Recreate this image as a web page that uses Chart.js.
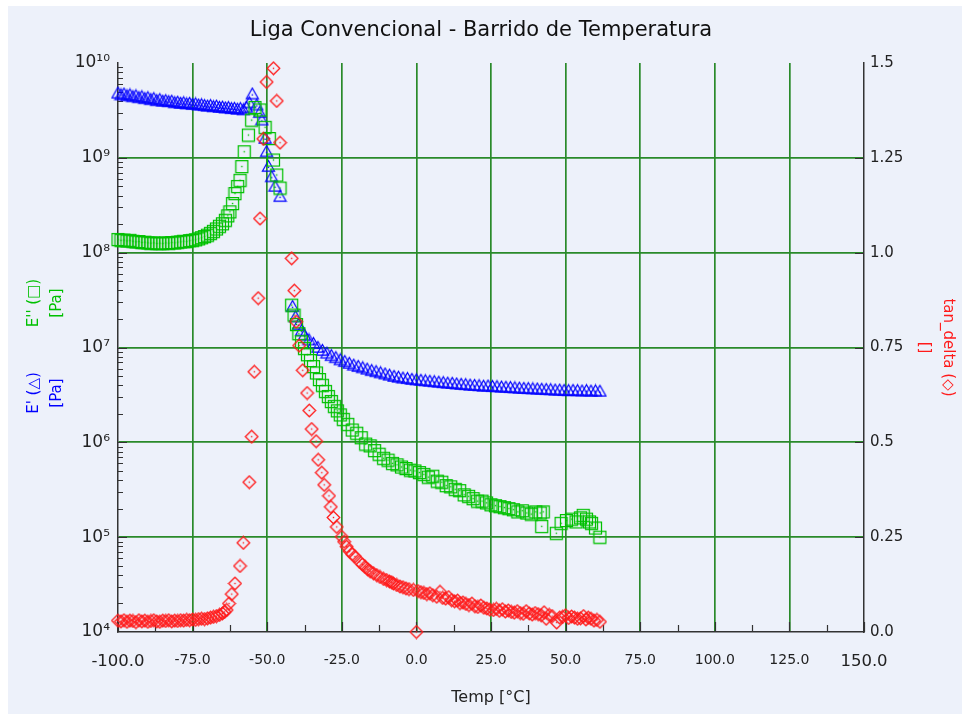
<!DOCTYPE html>
<html><head><meta charset="utf-8">
<script src="https://cdn.jsdelivr.net/npm/chart.js@4.4.1/dist/chart.umd.min.js"></script>
<style>html,body{margin:0;padding:0;background:#fff;}canvas{display:block;}</style>
</head><body>
<canvas id="c" width="962" height="714"></canvas>
<script>
// ---------------- DATA ----------------
const chartTitle = 'Liga Convencional - Barrido de Temperatura';
const xTickLabels = ['-100.0','-75.0','-50.0','-25.0','0.0','25.0','50.0','75.0','100.0','125.0','150.0'];
const leftTickLabels = ['10\u2074','10\u2075','10\u2076','10\u2077','10\u2078','10\u2079','10\u00B9\u2070'];
const rightTickLabels = ['0.0','0.25','0.5','0.75','1.0','1.25','1.5'];

// E' (storage modulus, Pa) - blue triangles
const tempsStorage = [-100,-99,-98,-97,-96,-95,-94,-93,-92,-91,-90,-89,-88,-87,-86,-85,-84,-83,-82,-81,-80,-79,-78,-77,-76,-75,-74,-73,-72,-71,-70,-69,-68,-67,-66,-65,-64,-63,-62,-61,-60,-59,-58,-57,
 -56,-55,-53.5,-52.5,-51.8,-50.7,-50.2,-49.6,-48.5,-47.4,-45.7,
 -41.5,-40.5,-39.5,-38.5,-37.5,-36,-34.5,-33,-31.5,-30,-28.5,-27,-25.5,-24,-22.5,-21,-19.5,-18,-16.5,-15,-13.5,-12,-10.5,-9,-7.5,-6,-4.5,-3,-1.5,0,
 1.5,3,4.5,6,7.5,9,10.5,12,13.5,15,16.5,18,19.5,21,22.5,24,25.5,27,28.5,30,31.5,33,34.5,36,37.5,39,40.5,42,43.5,45,46.5,48,49.5,51,52.5,54,55.5,57,58.5,60,61.5];
const storageModulus = [4.8e9,4.6e9,4.7e9,4.5e9,4.6e9,4.4e9,4.5e9,4.3e9,4.4e9,4.2e9,4.3e9,4.1e9,4.2e9,4.0e9,4.1e9,3.95e9,4.0e9,3.9e9,3.95e9,3.8e9,3.85e9,3.75e9,3.8e9,3.7e9,3.75e9,3.65e9,3.7e9,3.6e9,3.62e9,3.55e9,3.5e9,3.55e9,3.45e9,3.5e9,3.4e9,3.42e9,3.35e9,3.38e9,3.3e9,3.32e9,3.25e9,3.3e9,3.2e9,3.4e9,
 3.8e9,4.7e9,3.6e9,3.0e9,2.5e9,1.6e9,1.16e9,8.1e8,6.3e8,5.0e8,3.9e8,
 2.7e7,2.1e7,1.75e7,1.5e7,1.35e7,1.2e7,1.1e7,1.0e7,9.3e6,8.7e6,8.2e6,7.8e6,7.4e6,7.1e6,6.8e6,6.5e6,6.3e6,6.1e6,5.9e6,5.7e6,5.55e6,5.4e6,5.25e6,5.1e6,4.95e6,4.85e6,4.75e6,4.7e6,4.6e6,4.55e6,
 4.5e6,4.45e6,4.4e6,4.35e6,4.3e6,4.25e6,4.2e6,4.18e6,4.12e6,4.08e6,4.05e6,4.0e6,3.98e6,3.95e6,3.9e6,3.92e6,3.87e6,3.85e6,3.82e6,3.8e6,3.78e6,3.75e6,3.72e6,3.7e6,3.68e6,3.66e6,3.64e6,3.62e6,3.6e6,3.58e6,3.55e6,3.55e6,3.52e6,3.5e6,3.52e6,3.5e6,3.47e6,3.5e6,3.46e6,3.48e6,3.45e6];

// E'' (loss modulus, Pa) - green squares
const tempsLoss = [-100,-99,-98,-97,-96,-95,-94,-93,-92,-91,-90,-89,-88,-87,-86,-85,-84,-83,-82,-81,-80,-79,-78,-77,-76,-75,-74,-73,-72,-71,-70,-69,-68,-67,-66,-65,-64,
 -63.2,-62.5,-61.6,-60.8,-59.9,-59.1,-58.5,-57.7,-56.3,-55.2,-54.1,-52.4,-50.7,-49.3,-47.9,-46.8,-45.7,
 -41.8,-41,-40.2,-39.4,-38.5,-37.5,-36.5,-35.5,-34.5,-33.5,-32.5,-31.5,-30.5,-29.5,-28.5,-27.5,-26.5,-25.5,-24.5,-23,-21.5,-20,-18.5,-17,-15.5,-14,-12.5,-11,-9.5,-8,-6.5,-5,-3.5,-2,-0.5,
 1,2.5,4,5.5,7,8.5,10,11.5,13,14.5,16,17.5,19,20.5,22,23.5,25,26.5,28,29.5,31,32.5,34,35.5,37,38.5,40,41.5,42.5,42,46.9,48.5,50.3,52,53.5,55,55.9,57,58,58.7,60,61.5];
const lossModulus = [1.38e8,1.35e8,1.36e8,1.33e8,1.35e8,1.32e8,1.30e8,1.31e8,1.28e8,1.29e8,1.27e8,1.26e8,1.27e8,1.25e8,1.26e8,1.25e8,1.27e8,1.26e8,1.28e8,1.27e8,1.29e8,1.30e8,1.32e8,1.31e8,1.34e8,1.35e8,1.37e8,1.40e8,1.44e8,1.48e8,1.53e8,1.60e8,1.68e8,1.78e8,1.90e8,2.02e8,2.2e8,
 2.45e8,2.7e8,3.3e8,4.2e8,5.0e8,5.8e8,8.1e8,1.16e9,1.74e9,2.5e9,3.4e9,3.2e9,2.1e9,1.6e9,9.5e8,6.6e8,4.8e8,
 2.8e7,2.2e7,1.75e7,1.4e7,1.15e7,9.8e6,8.4e6,7.3e6,6.3e6,5.4e6,4.6e6,4.0e6,3.45e6,3.05e6,2.7e6,2.4e6,2.15e6,1.95e6,1.75e6,1.55e6,1.35e6,1.25e6,1.12e6,9.6e5,9.2e5,8.2e5,7.5e5,6.8e5,6.5e5,6.0e5,5.8e5,5.5e5,5.3e5,5.1e5,5.0e5,
 4.8e5,4.6e5,4.3e5,4.4e5,3.9e5,3.8e5,3.5e5,3.4e5,3.2e5,3.1e5,2.8e5,2.7e5,2.55e5,2.4e5,2.4e5,2.3e5,2.2e5,2.15e5,2.1e5,2.05e5,2.0e5,1.95e5,1.85e5,1.9e5,1.8e5,1.75e5,1.85e5,1.8e5,1.85e5,1.3e5,1.1e5,1.4e5,1.5e5,1.55e5,1.45e5,1.6e5,1.7e5,1.55e5,1.45e5,1.4e5,1.25e5,1.0e5];

// tan delta - red diamonds
const tempsTan = [-100,-99,-98,-97,-96,-95,-94,-93,-92,-91,-90,-89,-88,-87,-86,-85,-84,-83,-82,-81,-80,-79,-78,-77,-76,-75,-74,-73,-72,-71,-70,-69,-68,-67,-66,-65,
 -64.3,-63.6,-62.8,-61.9,-60.8,-59.1,-58,-56,-55.2,-54.3,-53,-52.4,-51.3,-50.2,-47.9,-46.8,-45.7,-41.8,-40.9,-40.3,
 -39.3,-38.1,-36.6,-35.9,-35.1,-33.6,-32.9,-31.7,-30.9,-29.3,-28.7,-27.8,-26.7,-25,-24.2,-23.4,-22.4,-21.5,-20.6,-19,
 -18.1,-17.2,-16.3,-15.5,-14.4,-13.3,-12.2,-11,-10,-9,-8.3,-7.7,-6.6,-5.5,-4.5,-3.5,-2.5,-1,0,0.5,
 1.5,2.5,3.5,4.5,5.5,6.8,7.9,8.8,9.8,10.8,11.8,12.8,13.8,14.6,15.6,16.6,17.6,18.6,19.6,20.6,
 21.6,22.6,23.6,24.6,25.8,26.8,27.8,28.8,29.8,30.8,31.8,32.8,33.8,34.8,35.8,36.8,37.8,38.8,39.8,40.8,
 41.8,42.8,43.5,44.5,45.5,47,48,49,50,51,52,53,54,55,56,56.8,57.6,58.5,59.5,60.5,61.5];
const tanDelta = [0.030,0.028,0.031,0.027,0.030,0.029,0.026,0.031,0.028,0.030,0.027,0.029,0.031,0.028,0.027,0.030,0.029,0.031,0.028,0.030,0.029,0.031,0.030,0.032,0.031,0.033,0.032,0.034,0.035,0.034,0.036,0.038,0.040,0.042,0.045,0.049,
 0.053,0.058,0.075,0.10,0.128,0.174,0.235,0.395,0.515,0.686,0.88,1.09,1.30,1.45,1.486,1.40,1.29,0.985,0.90,0.818,
 0.755,0.69,0.63,0.584,0.535,0.503,0.454,0.42,0.388,0.359,0.33,0.302,0.277,0.251,0.238,0.225,0.213,0.205,0.199,0.185,
 0.178,0.172,0.165,0.16,0.155,0.150,0.145,0.14,0.137,0.133,0.131,0.128,0.124,0.12,0.118,0.115,0.113,0.111,0.0,0.108,
 0.105,0.103,0.100,0.102,0.097,0.093,0.106,0.09,0.088,0.092,0.084,0.081,0.083,0.076,0.078,0.074,0.071,0.075,0.068,0.066,
 0.07,0.064,0.062,0.059,0.058,0.061,0.056,0.06,0.054,0.057,0.053,0.051,0.055,0.05,0.048,0.055,0.049,0.046,0.05,0.047,
 0.044,0.052,0.035,0.045,0.042,0.025,0.038,0.04,0.044,0.037,0.041,0.038,0.035,0.036,0.042,0.033,0.038,0.035,0.03,0.032,0.027];

// ---------------- STYLE ----------------
const BLUE = '#0000ff', GREEN = '#00c000', RED = '#ff1a1a';
const GRID = '#2a8a2a', AXIS = '#333333', BG = '#edf1fa';
const FONT = '"DejaVu Sans", Verdana, sans-serif';

function zip(xs, ys) { const n = Math.min(xs.length, ys.length); const out = []; for (let i = 0; i < n; i++) out.push({x: xs[i], y: ys[i]}); return out; }

function marker(shape, color) {
  const s = 15, c = document.createElement('canvas'); c.width = s; c.height = s;
  const g = c.getContext('2d'); g.strokeStyle = color; g.fillStyle = color; g.lineWidth = 1.25;
  g.beginPath();
  if (shape === 'tri') { g.moveTo(7.5, 1.5); g.lineTo(13.5, 12); g.lineTo(1.5, 12); g.closePath(); }
  else if (shape === 'sq') { g.rect(1.5, 1.5, 12, 12); }
  else { g.moveTo(7.5, 1.2); g.lineTo(13.8, 7.5); g.lineTo(7.5, 13.8); g.lineTo(1.2, 7.5); g.closePath(); }
  g.stroke();
  g.fillRect(6.8, shape === 'tri' ? 7.6 : 6.8, 1.4, 1.4);
  return c;
}

const bgPlugin = { id: 'bg', beforeDraw(chart) {
  const ctx = chart.ctx; ctx.save(); ctx.fillStyle = '#ffffff'; ctx.fillRect(0, 0, chart.width, chart.height);
  ctx.fillStyle = BG; ctx.fillRect(8, 6, chart.width - 8, chart.height - 6); ctx.restore(); } };

const innerTicks = { id: 'innerTicks', beforeDatasetsDraw(chart) {
  const ctx = chart.ctx, a = chart.chartArea, sx = chart.scales.x, sy = chart.scales.y, sr = chart.scales.y2;
  ctx.save(); ctx.strokeStyle = AXIS; ctx.lineWidth = 1.2; ctx.beginPath();
  for (let d = 4; d < 10; d++) {
    for (let m = 2; m <= 9; m++) { const y = Math.round(sy.getPixelForValue(m * Math.pow(10, d))) + 0.5; ctx.moveTo(a.left, y); ctx.lineTo(a.left + 5, y); }
  }
  for (let d = 5; d < 10; d++) { const y = Math.round(sy.getPixelForValue(Math.pow(10, d))) + 0.5; ctx.moveTo(a.left, y); ctx.lineTo(a.left + 9, y); }
  for (let v = -100; v <= 150; v += 12.5) {
    const x = Math.round(sx.getPixelForValue(v)) + 0.5; const major = (v % 25) === 0;
    ctx.moveTo(x, a.bottom); ctx.lineTo(x, a.bottom - (major ? 10 : 7));
  }
  for (let v = 0.25; v < 1.5; v += 0.25) { const y = Math.round(sr.getPixelForValue(v)) + 0.5; ctx.moveTo(a.right, y); ctx.lineTo(a.right - 9, y); }
  ctx.stroke(); ctx.restore(); } };

const leftTitles = { id: 'leftTitles', afterDraw(chart) {
  const ctx = chart.ctx; ctx.save(); ctx.font = '15px ' + FONT; ctx.textAlign = 'center'; ctx.textBaseline = 'middle';
  function draw(lines, color, cy) { ctx.save(); ctx.fillStyle = color; ctx.translate(0, cy); ctx.rotate(-Math.PI / 2);
    ctx.fillText(lines[0], 0, 34); ctx.fillText(lines[1], 0, 57); ctx.restore(); }
  draw(["E'' (\u25A1)", '[Pa]'], GREEN, 303);
  draw(["E' (\u25B3)", '[Pa]'], BLUE, 393);
  ctx.restore(); } };

Chart.defaults.font.family = FONT;
new Chart(document.getElementById('c'), {
  type: 'scatter',
  data: { datasets: [
    { label: 'tan_delta', data: zip(tempsTan, tanDelta), yAxisID: 'y2', pointStyle: marker('dia', RED), pointRadius: 6, clip: false },
    { label: "E''", data: zip(tempsLoss, lossModulus), yAxisID: 'y', pointStyle: marker('sq', GREEN), pointRadius: 6, clip: false },
    { label: "E'", data: zip(tempsStorage, storageModulus), yAxisID: 'y', pointStyle: marker('tri', BLUE), pointRadius: 6, clip: false }
  ] },
  options: {
    responsive: false, animation: false, devicePixelRatio: 1,
    layout: { padding: 0 },
    plugins: {
      legend: { display: false }, tooltip: { enabled: false },
      title: { display: true, text: chartTitle, color: '#111', font: { size: 21, lineHeight: '25px', weight: 'normal' }, padding: { top: 18, bottom: 20 } }
    },
    scales: {
      x: { type: 'linear', position: 'bottom', min: -100, max: 150,
        afterFit(s) { s.height = 82; },
        ticks: { stepSize: 25, autoSkip: false, maxRotation: 0, color: '#222', padding: 20,
          callback: (v, i) => xTickLabels[i],
          font: (c) => ({ size: (c.index === 0 || c.index === 10) ? 16.5 : 14 }) },
        grid: { color: (c) => (c.index === 0 || c.index === 10) ? 'rgba(0,0,0,0)' : GRID, lineWidth: 1.7, drawTicks: false },
        border: { display: true, color: AXIS, width: 1.5 },
        title: { display: true, text: 'Temp [\u00B0C]', color: '#222', font: { size: 16 }, padding: { top: 0, bottom: 7 } } },
      y: { type: 'logarithmic', position: 'left', min: 1e4, max: 1e10,
        afterFit(s) { s.width = 118; },
        afterBuildTicks(s) { s.ticks = [4,5,6,7,8,9,10].map(e => ({ value: Math.pow(10, e), major: true })); },
        ticks: { color: '#222', padding: 8, font: { size: 17 }, autoSkip: false, callback: (v, i) => leftTickLabels[i] },
        grid: { color: (c) => (c.index === 0 || c.index === 6) ? 'rgba(0,0,0,0)' : GRID, lineWidth: 1.7, drawTicks: false },
        border: { display: true, color: AXIS, width: 1.5 } },
      y2: { type: 'linear', position: 'right', min: 0, max: 1.5,
        afterFit(s) { s.width = 98; },
        ticks: { stepSize: 0.25, color: '#222', padding: 6, font: { size: 15 }, callback: (v, i) => rightTickLabels[i] },
        grid: { drawOnChartArea: false, drawTicks: false },
        border: { display: true, color: AXIS, width: 1.5 },
        title: { display: true, text: ['tan_delta (\u25C7)', '[]'], color: RED, font: { size: 15, lineHeight: '24px' }, padding: { top: 2 } } }
    }
  },
  plugins: [bgPlugin, innerTicks, leftTitles]
});
</script>
</body></html>
